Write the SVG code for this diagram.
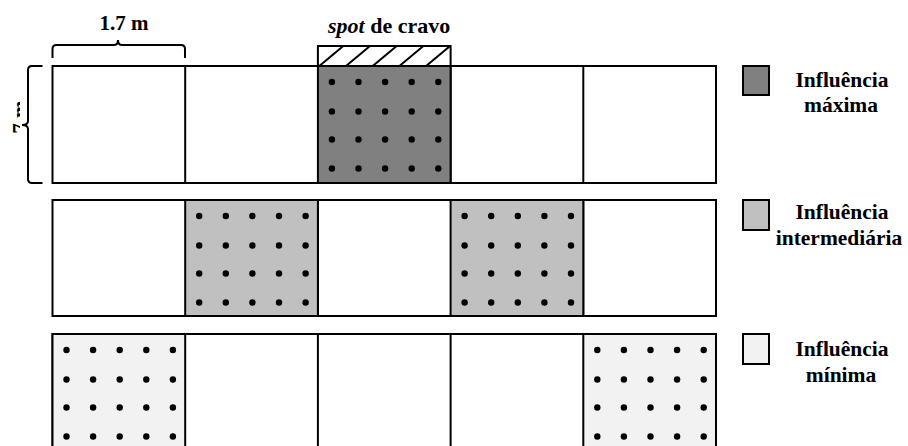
<svg xmlns="http://www.w3.org/2000/svg" width="908" height="446" viewBox="0 0 908 446">
<style>
.cell{fill:#ffffff;stroke:#000;stroke-width:2}
.max{fill:#808080;stroke:#000;stroke-width:2}
.mid{fill:#c0c0c0;stroke:#000;stroke-width:2}
.min{fill:#f2f2f2;stroke:#000;stroke-width:2}
.ln{fill:none;stroke:#000;stroke-width:2}
.t{font-family:"Liberation Serif","Times New Roman",serif;font-weight:bold;font-size:21px;fill:#000}
.lg{font-family:"Liberation Serif","Times New Roman",serif;font-weight:bold;font-size:21.5px;fill:#000;text-anchor:middle}
</style>
<defs>
<g id="dots">
<circle cx="14" cy="16" r="3.2"/><circle cx="40.6" cy="16" r="3.2"/><circle cx="67.2" cy="16" r="3.2"/><circle cx="93.8" cy="16" r="3.2"/><circle cx="120.4" cy="16" r="3.2"/>
<circle cx="14" cy="45.5" r="3.2"/><circle cx="40.6" cy="45.5" r="3.2"/><circle cx="67.2" cy="45.5" r="3.2"/><circle cx="93.8" cy="45.5" r="3.2"/><circle cx="120.4" cy="45.5" r="3.2"/>
<circle cx="14" cy="73.5" r="3.2"/><circle cx="40.6" cy="73.5" r="3.2"/><circle cx="67.2" cy="73.5" r="3.2"/><circle cx="93.8" cy="73.5" r="3.2"/><circle cx="120.4" cy="73.5" r="3.2"/>
<circle cx="14" cy="102.5" r="3.2"/><circle cx="40.6" cy="102.5" r="3.2"/><circle cx="67.2" cy="102.5" r="3.2"/><circle cx="93.8" cy="102.5" r="3.2"/><circle cx="120.4" cy="102.5" r="3.2"/>
</g>
<clipPath id="hatchClip"><rect x="317.9" y="46" width="132.7" height="20"/></clipPath>
<clipPath id="sideClip"><rect x="10" y="100" width="10" height="40"/></clipPath>
</defs>

<g id="row1">
<rect class="cell" x="52.5" y="66" width="663.5" height="117"/>
<line class="ln" x1="185.2" y1="66" x2="185.2" y2="183"/>
<line class="ln" x1="450.6" y1="66" x2="450.6" y2="183"/>
<line class="ln" x1="583.3" y1="66" x2="583.3" y2="183"/>
<g id="r1c3"><rect class="max" x="317.9" y="66" width="132.7" height="117"/><use href="#dots" x="317.9" y="66"/></g>
</g>

<g id="spot">
<rect class="cell" x="317.9" y="46" width="132.7" height="20"/>
<g clip-path="url(#hatchClip)" class="ln">
<line x1="319.3" y1="66" x2="343.3" y2="46"/>
<line x1="346" y1="66" x2="370" y2="46"/>
<line x1="372.7" y1="66" x2="396.7" y2="46"/>
<line x1="399.4" y1="66" x2="423.4" y2="46"/>
<line x1="426.1" y1="66" x2="450.1" y2="46"/>
</g>
<text class="t" x="328" y="33" style="font-size:22px"><tspan font-style="italic">spot</tspan> de cravo</text>
</g>

<g id="row2">
<rect class="cell" x="52.5" y="200" width="663.5" height="116"/>
<line class="ln" x1="317.9" y1="200" x2="317.9" y2="316"/>
<line class="ln" x1="583.3" y1="200" x2="583.3" y2="316"/>
<g id="r2c2"><rect class="mid" x="185.2" y="200" width="132.7" height="116"/><use href="#dots" x="185.2" y="200"/></g>
<g id="r2c4"><rect class="mid" x="450.6" y="200" width="132.7" height="116"/><use href="#dots" x="450.6" y="200"/></g>
</g>

<g id="row3">
<rect class="cell" x="52.5" y="334" width="663.5" height="118"/>
<line class="ln" x1="317.9" y1="334" x2="317.9" y2="452"/>
<line class="ln" x1="450.6" y1="334" x2="450.6" y2="452"/>
<g id="r3c1"><rect class="min" x="52.5" y="334" width="132.7" height="118"/><use href="#dots" x="52.5" y="334"/></g>
<g id="r3c5"><rect class="min" x="583.3" y="334" width="132.7" height="118"/><use href="#dots" x="583.3" y="334"/></g>
</g>

<g id="connectors">
<path class="ln" d="M52.5,58 V49 Q52.5,45 56.5,45 H114 Q118,45 118,40 Q118,45 122,45 H181 Q185,45 185,49 V58"/>
<path class="ln" d="M42.5,66 H32 Q28,66 28,70 V121 Q28,125 22,125 Q28,125 28,129 V179 Q28,183 32,183 H42.5"/>
</g>

<g id="labels">
<text class="t" x="124" y="30" text-anchor="middle">1.7 m</text>
<g clip-path="url(#sideClip)"><text class="t" transform="translate(27,125) rotate(-90)" text-anchor="middle">1.7 m</text></g>
</g>

<g id="legend-max">
<rect class="max" x="743" y="66" width="26" height="29"/>
<text class="lg" x="842" y="87">Influência</text>
<text class="lg" x="841" y="112">máxima</text>
</g>
<g id="legend-mid">
<rect class="mid" x="743" y="200" width="26" height="30"/>
<text class="lg" x="842" y="219">Influência</text>
<text class="lg" x="839" y="245">intermediária</text>
</g>
<g id="legend-min">
<rect class="min" x="743" y="334" width="26" height="30"/>
<text class="lg" x="842" y="356">Influência</text>
<text class="lg" x="841" y="382">mínima</text>
</g>
</svg>
